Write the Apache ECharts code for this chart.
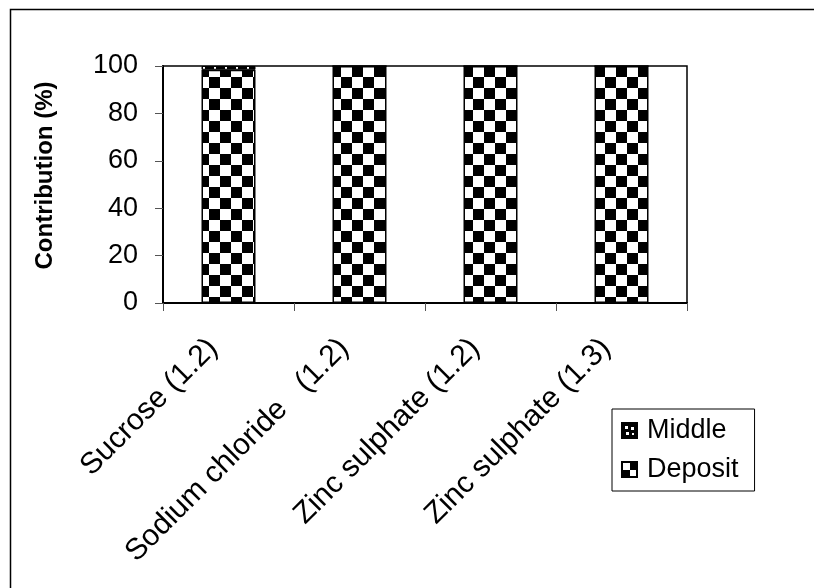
<!DOCTYPE html>
<html>
<head>
<meta charset="utf-8">
<script src="https://cdn.jsdelivr.net/npm/echarts@6/dist/echarts.min.js"></script>
<style>html,body{margin:0;padding:0;background:#fff}#c{width:814px;height:588px}</style>
</head>
<body>
<div id="c"></div>
<script>
// ---- data ----
const categories = ['Sucrose (1.2)', 'Sodium chloride   (1.2)', 'Zinc sulphate (1.2)', 'Zinc sulphate (1.3)'];
const middleValues = [1.6, 0, 0, 0];
const depositValues = [98.4, 100, 100, 100];
const yTicks = [0, 20, 40, 60, 80, 100];
const seriesNames = ['Middle', 'Deposit'];

// ---- patterns ----
function checker(cell) {
  const c = document.createElement('canvas');
  c.width = cell * 2; c.height = cell * 2;
  const g = c.getContext('2d');
  g.fillStyle = '#fff'; g.fillRect(0, 0, c.width, c.height);
  g.fillStyle = '#000';
  g.fillRect(0, 0, cell, cell);
  g.fillRect(cell, cell, cell, cell);
  return c;
}
function dots(step) {
  const c = document.createElement('canvas');
  c.width = step; c.height = step;
  const g = c.getContext('2d');
  g.fillStyle = '#000'; g.fillRect(0, 0, step, step);
  g.fillStyle = '#fff';
  g.fillRect(Math.floor(step / 2), 1, 2, 2);
  return c;
}
function iconMiddle() {
  const c = document.createElement('canvas');
  c.width = 17; c.height = 17;
  const g = c.getContext('2d');
  g.fillStyle = '#000'; g.fillRect(0, 0, 17, 17);
  g.fillStyle = '#fff';
  g.fillRect(4, 4, 3, 3); g.fillRect(10, 5, 3, 3);
  g.fillRect(5, 10, 3, 3); g.fillRect(11, 11, 2, 2);
  return c.toDataURL();
}
function iconDeposit() {
  const c = document.createElement('canvas');
  c.width = 17; c.height = 17;
  const g = c.getContext('2d');
  g.fillStyle = '#000'; g.fillRect(0, 0, 17, 17);
  g.fillStyle = '#fff';
  g.fillRect(2, 2, 7, 7);
  g.fillRect(9, 9, 6, 6);
  return c.toDataURL();
}

const font = 'Liberation Sans, Arial, sans-serif';
const chart = echarts.init(document.getElementById('c'), null, { renderer: 'canvas' });

chart.setOption({
  backgroundColor: '#fff',
  animation: false,
  graphic: [{
    type: 'rect', left: 8, top: 7, z: 100,
    shape: { width: 1000, height: 1000 },
    style: { fill: 'none', stroke: '#000', lineWidth: 1.5 }
  }],
  grid: {
    left: 163, top: 66, right: 127, bottom: 285,
    show: true, borderColor: '#000', borderWidth: 1.5, backgroundColor: '#fff'
  },
  legend: {
    orient: 'vertical',
    left: 612, top: 409,
    padding: [8, 16, 8, 9],
    itemGap: 12,
    itemWidth: 17, itemHeight: 17,
    borderColor: '#000', borderWidth: 1,
    backgroundColor: '#fff',
    textStyle: { fontFamily: font, fontSize: 27, color: '#000', padding: [0, 0, 0, 4] },
    data: [
      { name: seriesNames[0], icon: 'image://' + iconMiddle() },
      { name: seriesNames[1], icon: 'image://' + iconDeposit() }
    ]
  },
  xAxis: {
    type: 'category',
    data: categories,
    boundaryGap: true,
    axisLine: { lineStyle: { color: '#000', width: 2 } },
    axisTick: { show: true, length: 8, inside: false, lineStyle: { color: '#555', width: 1 } },
    axisLabel: {
      rotate: 45, interval: 0, margin: 25,
      padding: [0, 22, 0, 0],
      fontFamily: font, fontSize: 30, color: '#000'
    },
    splitLine: { show: false }
  },
  yAxis: {
    type: 'value',
    min: yTicks[0], max: yTicks[yTicks.length - 1], interval: 20,
    name: 'Contribution (%)',
    nameLocation: 'middle',
    nameGap: 106,
    nameTextStyle: { fontFamily: font, fontSize: 24, fontWeight: 'bold', color: '#000', padding: [0, 0, 0, 18] },
    axisLine: { show: true, lineStyle: { color: '#000', width: 2 } },
    axisTick: { show: true, length: 8, lineStyle: { color: '#555', width: 1 } },
    axisLabel: { margin: 25, fontFamily: font, fontSize: 27, color: '#000' },
    splitLine: { show: false }
  },
  series: [
    {
      name: seriesNames[1], type: 'bar', stack: 'total', barWidth: 54,
      data: depositValues,
      itemStyle: { color: { image: checker(11), repeat: 'repeat' }, borderColor: '#000', borderWidth: 1.5 }
    },
    {
      name: seriesNames[0], type: 'bar', stack: 'total', barWidth: 54,
      data: middleValues,
      itemStyle: { color: { image: dots(11), repeat: 'repeat' }, borderColor: '#000', borderWidth: 1 }
    }
  ]
});
</script>
</body>
</html>
